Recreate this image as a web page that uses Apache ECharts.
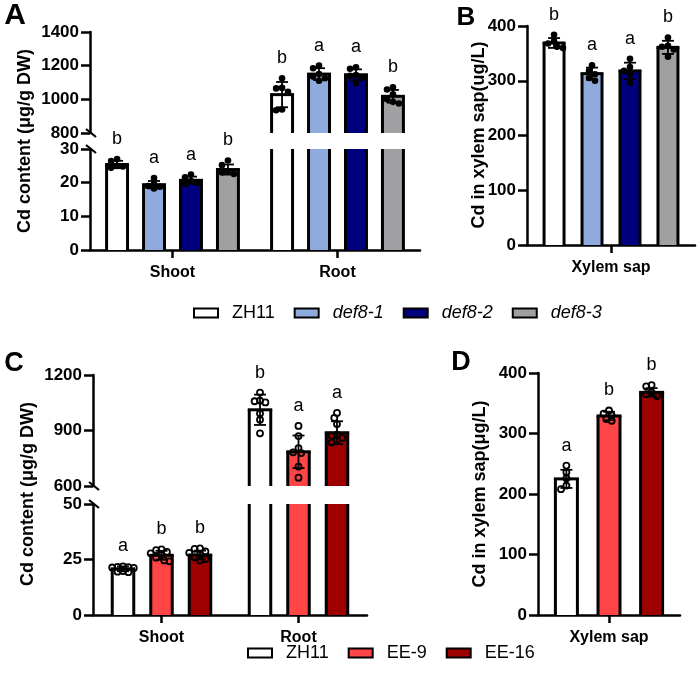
<!DOCTYPE html>
<html>
<head>
<meta charset="utf-8">
<script src="https://cdn.jsdelivr.net/npm/echarts@6/dist/echarts.min.js"></script>
<style>
html,body{margin:0;padding:0;background:#fff;}
#chart{width:700px;height:685px;}
</style>
</head>
<body>
<div id="chart"></div>
<script>
// ---------------- DATA ----------------
const tissues = ['Shoot', 'Root'];
const xylemCat = ['Xylem sap'];

const genotypesAB = ['ZH11', 'def8-1', 'def8-2', 'def8-3'];
const colorsAB = ['#FFFFFF', '#8FAADC', '#00007E', '#A0A0A2'];

// Panel A - shoot (µg/g DW)
const meanA_shoot = [25.4, 19.4, 20.7, 23.9];
const sdA_shoot = [1.1, 1.1, 1.1, 1.5];
const ptsA_shoot = [
  [27.0, 26.4, 25.0, 24.8, 24.4],
  [21.4, 19.6, 19.0, 18.8, 18.3],
  [22.4, 21.6, 20.5, 20.0, 19.6],
  [26.6, 25.2, 23.4, 23.0, 22.6]
];
const lettersA_shoot = ['b', 'a', 'a', 'b'];

// Panel A - root (µg/g DW)
const meanA_root = [1028, 1150, 1146, 1018];
const sdA_root = [75, 35, 32, 38];
const ptsA_root = [
  [1125, 1068, 1065, 1045, 940, 935],
  [1200, 1185, 1150, 1135, 1125, 1110],
  [1190, 1182, 1145, 1140, 1130, 1095],
  [1072, 1058, 1030, 1000, 985, 975]
];
const lettersA_root = ['b', 'a', 'a', 'b'];

// Panel B - xylem sap (ug/L)
const meanB = [369, 313, 318, 361];
const sdB = [9, 11, 15, 12];
const ptsB = [
  [384, 372, 368, 362, 360],
  [328, 318, 312, 305, 300],
  [340, 325, 318, 312, 296],
  [379, 364, 362, 357, 344]
];
const lettersB = ['b', 'a', 'a', 'b'];

const genotypesCD = ['ZH11', 'EE-9', 'EE-16'];
const colorsCD = ['#FFFFFF', '#FF4545', '#9E0000'];

// Panel C - shoot
const meanC_shoot = [20.8, 26.9, 27.0];
const sdC_shoot = [1.1, 2.0, 2.0];
const ptsC_shoot = [
  [21.9, 21.7, 21.6, 21.4, 21.2, 19.8, 19.5, 19.3],
  [29.6, 29.2, 28.4, 27.8, 27.0, 25.8, 24.6, 24.2],
  [30.0, 29.8, 28.6, 28.0, 27.2, 26.0, 25.2, 24.6]
];
const lettersC_shoot = ['a', 'b', 'b'];

// Panel C - root
const meanC_root = [1012, 785, 888];
const sdC_root = [82, 88, 62];
const ptsC_root = [
  [1105, 1062, 1058, 1052, 992, 958, 885],
  [925, 870, 805, 782, 778, 705, 645],
  [995, 968, 935, 878, 872, 860, 848, 835]
];
const lettersC_root = ['b', 'a', 'a'];

// Panel D - xylem sap (µg/L)
const meanD = [225, 329, 368];
const sdD = [15, 7, 7];
const ptsD = [
  [247, 236, 226, 214, 208],
  [338, 333, 330, 324, 321],
  [380, 378, 368, 365, 362]
];
const lettersD = ['a', 'b', 'b'];

// y-axis tick settings per segment
const yA_up = { min: 800, max: 1400, interval: 200 };
const yA_lo = { min: 0, max: 30, interval: 10 };
const yB = { min: 0, max: 400, interval: 100 };
const yC_up = { min: 600, max: 1200, interval: 300 };
const yC_lo = { min: 0, max: 50, interval: 25 };
const yD = { min: 0, max: 400, interval: 100 };

// ---------------- LAYOUT / STYLE ----------------
const FONT = "'Liberation Sans', Arial, Helvetica, sans-serif";
const grids = [
  { left: 90, top: 32, width: 330, height: 101 },   // 0 A upper
  { left: 90, top: 149, width: 330, height: 101 },  // 1 A lower
  { left: 527, top: 26, width: 168, height: 219 },  // 2 B
  { left: 93, top: 375, width: 274, height: 111 },  // 3 C upper
  { left: 93, top: 504, width: 274, height: 111 },  // 4 C lower
  { left: 538, top: 373, width: 142, height: 242 }  // 5 D
].map(g => Object.assign({ outerBoundsMode: 'none', containLabel: false }, g));

function xAxisFor(gi, cats, show) {
  return {
    type: 'category', gridIndex: gi, data: cats, show: show,
    axisLine: { show: true, onZero: false, lineStyle: { color: '#000', width: 2.5 } },
    axisTick: { show: true, alignWithLabel: true, length: 8, lineStyle: { color: '#000', width: 2.5 } },
    axisLabel: { color: '#000', fontWeight: 'bold', fontSize: 16, fontFamily: FONT, margin: 15 },
    splitLine: { show: false }
  };
}
function yAxisFor(gi, s) {
  return {
    type: 'value', gridIndex: gi, min: s.min, max: s.max, interval: s.interval,
    axisLine: { show: true, lineStyle: { color: '#000', width: 2.5 } },
    axisTick: { show: true, length: 9, lineStyle: { color: '#000', width: 2.5 } },
    axisLabel: { color: '#000', fontWeight: 'bold', fontSize: 17, fontFamily: FONT, margin: 11,
      formatter: v => String(v) },
    splitLine: { show: false }
  };
}

const xAxes = [
  xAxisFor(0, tissues, false), xAxisFor(1, tissues, true),
  xAxisFor(2, xylemCat, true),
  xAxisFor(3, tissues, false), xAxisFor(4, tissues, true),
  xAxisFor(5, xylemCat, true)
];
const yAxes = [
  yAxisFor(0, yA_up), yAxisFor(1, yA_lo), yAxisFor(2, yB),
  yAxisFor(3, yC_up), yAxisFor(4, yC_lo), yAxisFor(5, yD)
];

function ln(x1, y1, x2, y2, w) {
  return { type: 'line', shape: { x1, y1, x2, y2 }, style: { stroke: '#000', lineWidth: w } };
}

function barRenderer(o) {
  return function (params, api) {
    const cat = api.value(0);
    const mean = api.value(1);
    const sd = o.sd[cat], pts = o.pts[cat], letter = o.letters[cat];
    const cs = params.coordSys;
    const band = api.size([1, 0])[0];
    const c = api.coord([cat, mean]);
    const cx = c[0] + (o.gi - (o.n - 1) / 2) * o.step * band;
    const bw = o.width * band;
    const yTop = c[1];
    const yBase = api.coord([cat, o.min])[1];
    const gTop = cs.y, gBot = cs.y + cs.height;
    const top = Math.max(yTop, gTop), bot = Math.min(yBase, gBot);
    const kids = [];
    const lw = 3;
    if (bot > top) {
      kids.push({ type: 'rect', shape: { x: cx - bw / 2, y: top, width: bw, height: bot - top }, style: { fill: o.color } });
      kids.push(ln(cx - bw / 2, top, cx - bw / 2, bot, lw));
      kids.push(ln(cx + bw / 2, top, cx + bw / 2, bot, lw));
      if (yTop >= gTop - 0.5) kids.push(ln(cx - bw / 2 - lw / 2, yTop, cx + bw / 2 + lw / 2, yTop, lw));
    }
    if (mean >= o.min && mean <= o.max) {
      const yHi = api.coord([cat, mean + sd])[1], yLo = api.coord([cat, mean - sd])[1];
      kids.push(ln(cx, yHi, cx, yLo, 1.8));
      kids.push(ln(cx - 6, yHi, cx + 6, yHi, 1.8));
      kids.push(ln(cx - 6, yLo, cx + 6, yLo, 1.8));
      const r = o.r, d = 1.8 * r;
      const maxOff = bw / 2 + 1;
      const cands = [0];
      for (let k = 1; k * d * 0.5 <= maxOff; k++) {
        cands.push(-k * d * 0.5, k * d * 0.5);
      }
      const placed = [];
      let minY = yHi;
      pts.slice().sort((a, b) => b - a).forEach(v => {
        const y = api.coord([cat, v])[1];
        let best = null, bestD = -1;
        for (const off of cands) {
          const x = cx + off;
          const md = placed.reduce((m, p) => Math.min(m, Math.hypot(p[0] - x, p[1] - y)), Infinity);
          if (md >= d) { best = x; break; }
          if (md > bestD + 0.5) { bestD = md; best = x; }
        }
        placed.push([best, y]);
        minY = Math.min(minY, y);
      });
      placed.forEach(p => kids.push({
        type: 'circle', shape: { cx: p[0], cy: p[1], r: r },
        style: o.hollow ? { fill: 'none', stroke: '#000', lineWidth: 1.8 } : { fill: '#000' }
      }));
      kids.push({
        type: 'text',
        style: {
          text: letter, x: cx, y: minY - 20, fill: '#000', font: '18px ' + FONT,
          textAlign: 'center', textVerticalAlign: 'middle', align: 'center', verticalAlign: 'middle'
        }
      });
    }
    return { type: 'group', children: kids };
  };
}

const series = [];
function addSegment(gridIdx, names, colors, means, sds, pts, letters, seg, catIdx, step, width, hollow, r) {
  names.forEach((nm, gi) => {
    series.push({
      type: 'custom', name: nm, xAxisIndex: gridIdx, yAxisIndex: gridIdx,
      clip: false, silent: true,
      itemStyle: { color: colors[gi], borderColor: '#000' },
      encode: { x: 0, y: 1 },
      data: means.map((m, ci) => [catIdx[ci], m[gi]]),
      renderItem: barRenderer({
        gi: gi, n: names.length, color: colors[gi], min: seg.min, max: seg.max,
        sd: sds.map(s => s[gi]), pts: pts.map(p => p[gi]), letters: letters.map(l => l[gi]),
        step: step, width: width, hollow: hollow, r: r
      })
    });
  });
}

// Panel A (two segments, both tissues)
[0, 1].forEach(gIdx => addSegment(gIdx, genotypesAB, colorsAB,
  [meanA_shoot, meanA_root], [sdA_shoot, sdA_root], [ptsA_shoot, ptsA_root], [lettersA_shoot, lettersA_root],
  gIdx === 0 ? yA_up : yA_lo, [0, 1], 0.224, 0.127, false, 3.3));
// Panel B
addSegment(2, genotypesAB, colorsAB, [meanB], [sdB], [ptsB], [lettersB], yB, [0], 0.226, 0.119, false, 3.3);
// Panel C
[3, 4].forEach(gIdx => addSegment(gIdx, genotypesCD, colorsCD,
  [meanC_shoot, meanC_root], [sdC_shoot, sdC_root], [ptsC_shoot, ptsC_root], [lettersC_shoot, lettersC_root],
  gIdx === 3 ? yC_up : yC_lo, [0, 1], 0.281, 0.157, true, 3.0));
// Panel D
addSegment(5, genotypesCD, colorsCD, [meanD], [sdD], [ptsD], [lettersD], yD, [0], 0.3, 0.155, true, 3.0);

// ---------------- DECORATION ----------------
function panelLetter(t, x, y, size) {
  return { type: 'text', x: x, y: y, style: { text: t, font: 'bold ' + size + 'px ' + FONT, fill: '#000', textAlign: 'center', textVerticalAlign: 'middle', align: 'center', verticalAlign: 'middle' } };
}
function yName(t, x, y) {
  return { type: 'text', x: x, y: y, rotation: Math.PI / 2, style: { text: t, font: 'bold 18px ' + FONT, fill: '#000', textAlign: 'center', textVerticalAlign: 'middle', align: 'center', verticalAlign: 'middle' } };
}
function breakMark(x, y) {
  return { type: 'line', shape: { x1: x - 4, y1: y - 4, x2: x + 6, y2: y + 4 }, style: { stroke: '#000', lineWidth: 2.2 } };
}
const graphics = [
  panelLetter('A', 15, 16, 30), panelLetter('B', 466, 18, 26),
  panelLetter('C', 14, 364, 27), panelLetter('D', 461, 363, 27),
  yName('Cd content (μg/g DW)', 25, 141),
  yName('Cd in xylem sap(ug/L)', 479, 135),
  yName('Cd content (μg/g DW)', 28, 494),
  yName('Cd in xylem sap(μg/L)', 480, 494),
  breakMark(grids[0].left, grids[0].top + grids[0].height),
  breakMark(grids[1].left, grids[1].top),
  breakMark(grids[3].left, grids[3].top + grids[3].height),
  breakMark(grids[4].left, grids[4].top)
];

function legendFor(names, italic, left, top) {
  return {
    left: left, top: top, orient: 'horizontal', selectedMode: false, padding: 0,
    itemWidth: 24, itemHeight: 9, itemGap: 19, icon: 'rect',
    itemStyle: { borderColor: '#000', borderWidth: 2 },
    textStyle: { fontSize: 18, fontFamily: FONT, color: '#000', padding: [0, 0, 0, 9] },
    data: names.map((n, i) => ({ name: n, icon: 'rect', textStyle: { fontStyle: (italic && i > 0) ? 'italic' : 'normal' } }))
  };
}

const option = {
  animation: false,
  backgroundColor: '#fff',
  grid: grids,
  xAxis: xAxes,
  yAxis: yAxes,
  legend: [legendFor(genotypesAB, true, 193, 304), legendFor(genotypesCD, false, 247, 644)],
  graphic: graphics,
  series: series
};
const chart = echarts.init(document.getElementById('chart'), null, { renderer: 'canvas' });
chart.setOption(option);
</script>
</body>
</html>
